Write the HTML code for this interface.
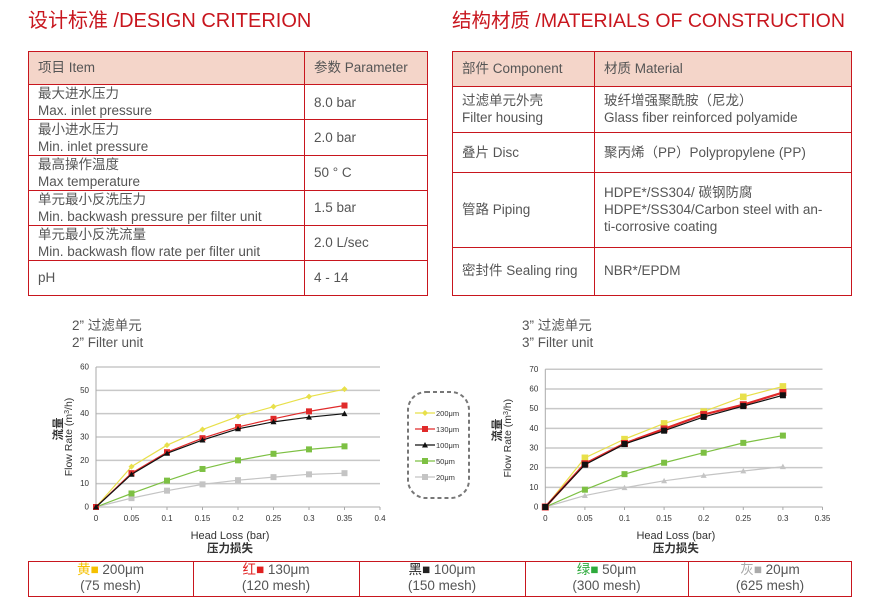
<!DOCTYPE html>
<html><head><meta charset="utf-8">
<style>
body{margin:0;width:872px;height:606px;background:#fff;position:relative;overflow:hidden;font-family:"Liberation Sans","Noto Sans CJK SC",sans-serif;color:#555}
.a{position:absolute;white-space:nowrap}
.t{font-size:20px;color:#c8161e;top:4px}
.box{position:absolute;border:1px solid #c8161e;box-sizing:border-box}
.hl{position:absolute;height:1px;background:#c8161e}
.vl{position:absolute;width:1px;background:#c8161e}
.c{position:absolute;font-size:13.5px;line-height:17px;white-space:nowrap;color:#555}
</style></head><body>
<div class="a t" style="left:28px">设计标准 /DESIGN CRITERION</div>
<div class="a t" style="left:452px;font-size:19.5px">结构材质 /MATERIALS OF CONSTRUCTION</div>

<!-- left table -->
<div style="position:absolute;left:28px;top:51px;width:399px;height:33px;background:#f4d5c9"></div>
<div class="box" style="left:28px;top:51px;width:400px;height:245px"></div>
<div class="vl" style="left:304px;top:51px;height:245px"></div>
<div class="hl" style="left:28px;width:400px;top:84px"></div>
<div class="hl" style="left:28px;width:400px;top:119px"></div>
<div class="hl" style="left:28px;width:400px;top:155px"></div>
<div class="hl" style="left:28px;width:400px;top:190px"></div>
<div class="hl" style="left:28px;width:400px;top:225px"></div>
<div class="hl" style="left:28px;width:400px;top:260px"></div>
<div class="c" style="left:38px;top:59px">项目 Item</div>
<div class="c" style="left:314px;top:59px">参数 Parameter</div>
<div class="c" style="left:38px;top:85px">最大进水压力<br>Max. inlet pressure</div>
<div class="c" style="left:314px;top:94px">8.0 bar</div>
<div class="c" style="left:38px;top:121px">最小进水压力<br>Min. inlet pressure</div>
<div class="c" style="left:314px;top:129px">2.0 bar</div>
<div class="c" style="left:38px;top:156px">最高操作温度<br>Max temperature</div>
<div class="c" style="left:314px;top:164px">50 ° C</div>
<div class="c" style="left:38px;top:191px">单元最小反洗压力<br>Min. backwash pressure per filter unit</div>
<div class="c" style="left:314px;top:199px">1.5 bar</div>
<div class="c" style="left:38px;top:226px">单元最小反洗流量<br>Min. backwash flow rate per filter unit</div>
<div class="c" style="left:314px;top:234px">2.0 L/sec</div>
<div class="c" style="left:38px;top:269px">pH</div>
<div class="c" style="left:314px;top:269px">4 - 14</div>

<!-- right table -->
<div style="position:absolute;left:452px;top:51px;width:399px;height:35px;background:#f4d5c9"></div>
<div class="box" style="left:452px;top:51px;width:400px;height:245px"></div>
<div class="vl" style="left:594px;top:51px;height:245px"></div>
<div class="hl" style="left:452px;width:400px;top:86px"></div>
<div class="hl" style="left:452px;width:400px;top:132px"></div>
<div class="hl" style="left:452px;width:400px;top:172px"></div>
<div class="hl" style="left:452px;width:400px;top:247px"></div>
<div class="c" style="left:462px;top:60px">部件 Component</div>
<div class="c" style="left:604px;top:60px">材质 Material</div>
<div class="c" style="left:462px;top:92px">过滤单元外壳<br>Filter housing</div>
<div class="c" style="left:604px;top:92px">玻纤增强聚酰胺（尼龙）<br>Glass fiber reinforced polyamide</div>
<div class="c" style="left:462px;top:144px">叠片 Disc</div>
<div class="c" style="left:604px;top:144px">聚丙烯（PP）Polypropylene (PP)</div>
<div class="c" style="left:462px;top:201px">管路 Piping</div>
<div class="c" style="left:604px;top:184px">HDPE*/SS304/ 碳钢防腐<br>HDPE*/SS304/Carbon steel with an-<br>ti-corrosive coating</div>
<div class="c" style="left:462px;top:262px">密封件 Sealing ring</div>
<div class="c" style="left:604px;top:262px">NBR*/EPDM</div>

<!-- chart titles -->
<div class="c" style="left:72px;top:317px">2” 过滤单元<br>2” Filter unit</div>
<div class="c" style="left:522px;top:317px">3” 过滤单元<br>3” Filter unit</div>

<svg id="s" width="872" height="606" style="position:absolute;left:0;top:0" font-family="Liberation Sans, Noto Sans CJK SC, sans-serif"></svg>

<!-- bottom table -->
<div class="box" style="left:28px;top:561px;width:824px;height:36px"></div>
<div class="vl" style="left:193px;top:561px;height:36px"></div>
<div class="vl" style="left:359px;top:561px;height:36px"></div>
<div class="vl" style="left:525px;top:561px;height:36px"></div>
<div class="vl" style="left:688px;top:561px;height:36px"></div>
<div class="c" style="left:28px;width:165px;text-align:center;top:562px;line-height:16px"><span style="color:#f5c000">黄■</span> 200μm<br>(75 mesh)</div>
<div class="c" style="left:193px;width:166px;text-align:center;top:562px;line-height:16px"><span style="color:#e02020">红■</span> 130μm<br>(120 mesh)</div>
<div class="c" style="left:359px;width:166px;text-align:center;top:562px;line-height:16px"><span style="color:#222">黑■</span> 100μm<br>(150 mesh)</div>
<div class="c" style="left:525px;width:163px;text-align:center;top:562px;line-height:16px"><span style="color:#2eaa3c">绿■</span> 50μm<br>(300 mesh)</div>
<div class="c" style="left:688px;width:164px;text-align:center;top:562px;line-height:16px"><span style="color:#aaa">灰■</span> 20μm<br>(625 mesh)</div>

<script>
var s=document.getElementById('s'),h='';
function T(x,y,t,sz,anc,extra){h+='<text x="'+x+'" y="'+y+'" font-size="'+sz+'" fill="#333" text-anchor="'+(anc||'middle')+'" '+(extra||'')+'>'+t+'</text>';}
function chart(x0,y0,xs,ys,ymax,ystep,xmax,series,ax){
  var xR=x0+xmax/0.05*xs;
  for(var v=0;v<=ymax;v+=ystep){var y=y0-v/10*ys;h+='<line x1="'+x0+'" x2="'+xR+'" y1="'+y+'" y2="'+y+'" stroke="#c8c8c8" stroke-width="1.5"/>';T(x0-7,y+2.5,v,8,'end');}
  h+='<line x1="'+x0+'" x2="'+x0+'" y1="'+(y0-ymax/10*ys)+'" y2="'+y0+'" stroke="#aaa"/>';
  for(var i=0;i*0.05<=xmax+1e-9;i++){var x=x0+i*xs;h+='<line x1="'+x+'" x2="'+x+'" y1="'+y0+'" y2="'+(y0+3)+'" stroke="#aaa"/>';T(x,y0+14,i==0?'0':(+(i*0.05).toFixed(2)).toString(),8);}
  series.forEach(function(se){var p=se.d.map(function(v,i){return [x0+i*xs,y0-v/10*ys];});
    h+='<polyline fill="none" stroke="'+se.c+'" stroke-width="'+(se.w||1.2)+'" points="'+p.map(function(q){return q.join(',')}).join(' ')+'"/>';
    p.forEach(function(q){var r=se.r||3;
      if(se.m=='t')h+='<polygon fill="'+se.c+'" points="'+q[0]+','+(q[1]-r)+' '+(q[0]-r)+','+(q[1]+r*0.8)+' '+(q[0]+r)+','+(q[1]+r*0.8)+'"/>';
      else if(se.m=='d')h+='<polygon fill="'+se.c+'" points="'+q[0]+','+(q[1]-r)+' '+(q[0]-r)+','+q[1]+' '+q[0]+','+(q[1]+r)+' '+(q[0]+r)+','+q[1]+'"/>';
      else h+='<rect fill="'+se.c+'" x="'+(q[0]-r)+'" y="'+(q[1]-r)+'" width="'+2*r+'" height="'+2*r+'"/>';});});
  var cx=(x0+xR)/2;T(cx-8,y0+32,'Head Loss (bar)',11);T(cx-8,y0+45,'压力损失',11.5,'middle','font-weight="bold"');
  var my=y0-ymax/20*ys;
  h+='<text transform="translate('+(ax+10)+','+my+') rotate(-90)" font-size="10.5" fill="#333" text-anchor="middle">Flow Rate (m<tspan font-size="7" dy="-3">3</tspan><tspan dy="3">/h)</tspan></text>';
  h+='<text transform="translate('+ax+','+(my-8)+') rotate(-90)" font-size="11.5" fill="#333" text-anchor="middle" font-weight="bold">流量</text>';
}
chart(96,507,35.5,23.33,60,10,0.4,[
 {c:'#c4c4c4',d:[0,3.8,7,9.7,11.5,12.8,14,14.5],m:'s'},
 {c:'#7dc043',d:[0,5.8,11.3,16.3,20,22.8,24.7,26],m:'s'},
 {c:'#e8e04a',d:[0,17.3,26.5,33.2,38.8,43,47.3,50.5],m:'d'},
 {c:'#e02a2a',d:[0,14.5,23.5,29.5,34.3,37.8,41,43.5],m:'s'},
 {c:'#111',d:[0,14,23,28.7,33.5,36.5,38.5,40],m:'t'}],62);
chart(545.3,507,39.6,19.67,70,10,0.35,[
 {c:'#c4c4c4',d:[0,5.8,9.8,13.3,16,18.3,20.5],m:'t'},
 {c:'#7dc043',d:[0,8.8,16.7,22.5,27.6,32.6,36.3],m:'s'},
 {c:'#e8e04a',d:[0,25,34.5,42.5,48.5,56,61.3],m:'s',r:3.3},
 {c:'#e02a2a',d:[0,22,32.3,39.7,47,52,58.2],m:'s',w:2.2,r:3.5},
 {c:'#111',d:[0,21.5,32,38.8,45.8,51.3,56.8],m:'s'}],501);
h+='<rect x="408" y="392" width="61" height="106" rx="18" fill="none" stroke="#777" stroke-width="2" stroke-dasharray="4,3"/>';
[['#e8e04a','200μm','d'],['#e02a2a','130μm','s'],['#111','100μm','t'],['#7dc043','50μm','s'],['#c4c4c4','20μm','s']].forEach(function(l,i){
 var y=413+i*16;h+='<line x1="415" x2="435" y1="'+y+'" y2="'+y+'" stroke="'+l[0]+'" stroke-width="1.3"/>';
 if(l[2]=='d')h+='<polygon fill="'+l[0]+'" points="425,'+(y-3)+' 422,'+y+' 425,'+(y+3)+' 428,'+y+'"/>';
 else if(l[2]=='t')h+='<polygon fill="'+l[0]+'" points="425,'+(y-3)+' 422,'+(y+2.5)+' 428,'+(y+2.5)+'"/>';
 else h+='<rect fill="'+l[0]+'" x="422" y="'+(y-3)+'" width="6" height="6"/>';
 T(436,y+3,l[1],7.5,'start');});
s.innerHTML=h;
</script>
</body></html>
